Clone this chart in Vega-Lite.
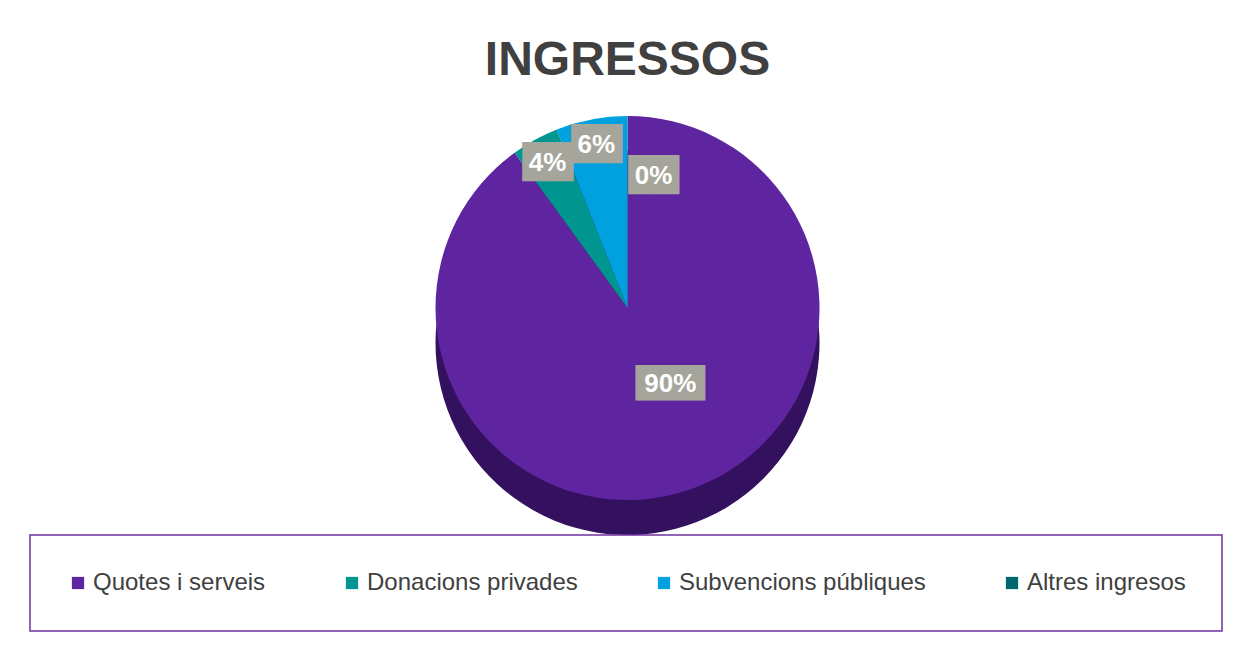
{
  "$schema": "https://vega.github.io/schema/vega-lite/v6.json",
  "width": 1253,
  "height": 654,
  "autosize": {"type": "fit", "contains": "padding"},
  "padding": {"left": 10, "top": 10, "right": 8, "bottom": 0},
  "background": "white",
  "config": {"view": {"stroke": "#d9d9d9", "strokeWidth": 1.5}},
  "title": {"text": "INGRESSOS", "fontSize": 48, "font": "Liberation Sans", "fontWeight": "bold", "color": "#404040", "offset": -75, "anchor": "middle"},
  "data": {"values": [
    {"cat": "Quotes i serveis", "value": 90, "label": "90%", "idx": 1},
    {"cat": "Donacions privades", "value": 4, "label": "4%", "idx": 2},
    {"cat": "Subvencions públiques", "value": 6, "label": "6%", "idx": 3},
    {"cat": "Altres ingresos", "value": 0, "label": "0%", "idx": 4}
  ]},
  "encoding": {
    "theta": {"field": "value", "type": "quantitative", "stack": true},
    "order": {"field": "idx", "type": "quantitative"}
  },
  "layer": [
    {"mark": {"type": "arc", "outerRadius": 192, "yOffset": 11, "fill": "#34115f"}},
    {"mark": {"type": "arc", "outerRadius": 192, "yOffset": -24},
     "encoding": {"color": {"field": "cat", "type": "nominal",
       "scale": {"domain": ["Quotes i serveis", "Donacions privades", "Subvencions públiques", "Altres ingresos"],
                 "range": ["#5f249f", "#00968f", "#00a1de", "#00676f"]},
       "legend": {"title": null, "orient": "none", "legendX": 20, "legendY": 525, "direction": "horizontal", "columns": 4,
                  "padding": 36, "strokeColor": "#7030a0", "fillColor": "white",
                  "symbolType": "square", "symbolSize": 150, "symbolStrokeWidth": 0,
                  "labelFontSize": 24, "labelFont": "Liberation Sans", "labelColor": "#404040", "labelLimit": 0,
                  "labelOffset": 3, "columnPadding": 74,
                  "encode": {"legend": {"update": {"strokeWidth": {"value": 1.5}}}}}}}},
    {"mark": {"type": "text", "radius": 166, "yOffset": -24, "fontSize": 33, "font": "DejaVu Sans", "color": "#a5a59c", "align": "center", "baseline": "middle"},
     "encoding": {"text": {"condition": {"test": "datum.idx == 2 || datum.idx == 3", "value": "██"}, "value": ""}}},
    {"mark": {"type": "text", "radius": 166, "yOffset": -24, "fontSize": 26, "font": "Liberation Sans", "fontWeight": "bold", "color": "white", "align": "center", "baseline": "middle"},
     "encoding": {"text": {"condition": {"test": "datum.idx == 2 || datum.idx == 3", "field": "label"}, "value": ""}}},
    {"mark": {"type": "text", "radius": 132, "yOffset": -24, "dx": 26, "fontSize": 33, "font": "DejaVu Sans", "color": "#a5a59c", "align": "center", "baseline": "middle"},
     "encoding": {"text": {"condition": {"test": "datum.idx == 4", "value": "██"}, "value": ""}}},
    {"mark": {"type": "text", "radius": 132, "yOffset": -24, "dx": 26, "fontSize": 26, "font": "Liberation Sans", "fontWeight": "bold", "color": "white", "align": "center", "baseline": "middle"},
     "encoding": {"text": {"condition": {"test": "datum.idx == 4", "field": "label"}, "value": ""}}},
    {"mark": {"type": "text", "radius": 80, "yOffset": -24, "dx": 18, "fontSize": 30, "font": "DejaVu Sans", "color": "#a5a59c", "align": "center", "baseline": "middle"},
     "encoding": {"text": {"condition": {"test": "datum.idx == 1", "value": "███"}, "value": ""}}},
    {"mark": {"type": "text", "radius": 80, "yOffset": -24, "dx": 18, "fontSize": 26, "font": "Liberation Sans", "fontWeight": "bold", "color": "white", "align": "center", "baseline": "middle"},
     "encoding": {"text": {"condition": {"test": "datum.idx == 1", "field": "label"}, "value": ""}}}
  ]
}
